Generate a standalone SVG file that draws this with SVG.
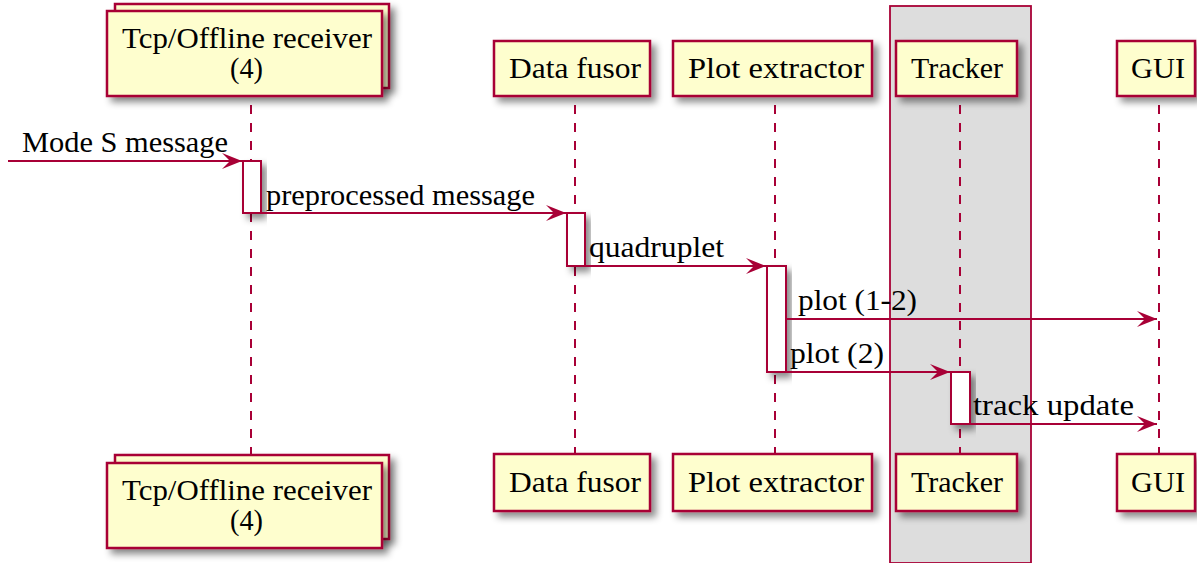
<svg xmlns="http://www.w3.org/2000/svg" width="1197" height="563" viewBox="0 0 1197 563">
  <defs>
    <filter id="shadow" x="-20%" y="-20%" width="150%" height="160%">
      <feDropShadow dx="5" dy="5" stdDeviation="3.5" flood-color="#000" flood-opacity="0.45"/>
    </filter>
    <marker id="arrow" viewBox="0 0 20 16" refX="20" refY="8" markerWidth="20" markerHeight="16" markerUnits="userSpaceOnUse" orient="auto">
      <polygon points="0,0 20,8 0,16 8,8" fill="#A80036"/>
    </marker>
  </defs>
  <style>
    .part { fill: #FEFECE; stroke: #A80036; stroke-width: 2.5; filter: url(#shadow); }
    .act { fill: #FFFFFF; stroke: #A80036; stroke-width: 2; filter: url(#shadow); }
    .life { stroke: #A80036; stroke-width: 2; stroke-dasharray: 9 9; fill: none; }
    .msg { stroke: #A80036; stroke-width: 2; fill: none; marker-end: url(#arrow); }
    .lbl { font-family: "Liberation Serif", "Times New Roman", serif; font-size: 30px; fill: #000; }
    .c { text-anchor: middle; }
  </style>
  <rect width="1197" height="563" fill="#FFFFFF"/>

  <!-- participant box around Tracker -->
  <g id="tracker-box">
    <rect x="890" y="6" width="141" height="557" fill="#DDDDDD" stroke="#A80036" stroke-width="1.8"/>
  </g>

  <!-- lifelines -->
  <g id="lifelines">
    <line class="life" x1="251" y1="105" x2="251" y2="455"/>
    <line class="life" x1="575" y1="105" x2="575" y2="454"/>
    <line class="life" x1="775" y1="105" x2="775" y2="454"/>
    <line class="life" x1="960" y1="105" x2="960" y2="454"/>
    <line class="life" x1="1159" y1="105" x2="1159" y2="454"/>
  </g>

  <!-- participants (head) -->
  <g id="receiver-head">
    <rect class="part" x="115" y="4" width="274" height="84"/>
    <rect class="part" x="107" y="11" width="275" height="85"/>
    <text class="lbl c" x="247" y="48" textLength="250" lengthAdjust="spacingAndGlyphs">Tcp/Offline receiver</text>
    <text class="lbl c" x="246.5" y="78" textLength="33" lengthAdjust="spacingAndGlyphs">(4)</text>
  </g>
  <g id="fusor-head">
    <rect class="part" x="494" y="41" width="156" height="55"/>
    <text class="lbl c" x="575" y="78" textLength="132" lengthAdjust="spacingAndGlyphs">Data fusor</text>
  </g>
  <g id="extractor-head">
    <rect class="part" x="673" y="41" width="199" height="55"/>
    <text class="lbl c" x="776" y="78" textLength="176" lengthAdjust="spacingAndGlyphs">Plot extractor</text>
  </g>
  <g id="tracker-head">
    <rect class="part" x="896" y="41" width="121" height="55"/>
    <text class="lbl c" x="957" y="78" textLength="92" lengthAdjust="spacingAndGlyphs">Tracker</text>
  </g>
  <g id="gui-head">
    <rect class="part" x="1117" y="41" width="78" height="55"/>
    <text class="lbl c" x="1158" y="78" textLength="54" lengthAdjust="spacingAndGlyphs">GUI</text>
  </g>

  <!-- participants (foot) -->
  <g id="receiver-foot">
    <rect class="part" x="115" y="455" width="274" height="84"/>
    <rect class="part" x="107" y="463" width="275" height="85"/>
    <text class="lbl c" x="247" y="500" textLength="250" lengthAdjust="spacingAndGlyphs">Tcp/Offline receiver</text>
    <text class="lbl c" x="246.5" y="530" textLength="33" lengthAdjust="spacingAndGlyphs">(4)</text>
  </g>
  <g id="fusor-foot">
    <rect class="part" x="494" y="454" width="156" height="57"/>
    <text class="lbl c" x="575" y="492" textLength="132" lengthAdjust="spacingAndGlyphs">Data fusor</text>
  </g>
  <g id="extractor-foot">
    <rect class="part" x="673" y="454" width="199" height="57"/>
    <text class="lbl c" x="776" y="492" textLength="176" lengthAdjust="spacingAndGlyphs">Plot extractor</text>
  </g>
  <g id="tracker-foot">
    <rect class="part" x="896" y="454" width="121" height="57"/>
    <text class="lbl c" x="957" y="492" textLength="92" lengthAdjust="spacingAndGlyphs">Tracker</text>
  </g>
  <g id="gui-foot">
    <rect class="part" x="1117" y="454" width="78" height="57"/>
    <text class="lbl c" x="1158" y="492" textLength="54" lengthAdjust="spacingAndGlyphs">GUI</text>
  </g>

  <!-- activations -->
  <g id="activations">
    <rect class="act" x="243" y="161" width="18" height="52"/>
    <rect class="act" x="567" y="213" width="18" height="53"/>
    <rect class="act" x="767" y="266" width="19" height="106"/>
    <rect class="act" x="951" y="372" width="19" height="52"/>
  </g>

  <!-- messages -->
  <g id="connectors">
    <line class="msg" x1="8" y1="161" x2="242" y2="161"/>
    <line class="msg" x1="261" y1="213" x2="566" y2="213"/>
    <line class="msg" x1="585" y1="266" x2="766" y2="266"/>
    <line class="msg" x1="786" y1="319" x2="1157" y2="319"/>
    <line class="msg" x1="786" y1="372" x2="950" y2="372"/>
    <line class="msg" x1="970" y1="424" x2="1157" y2="424"/>
  </g>
  <g id="labels">
    <text class="lbl" x="22" y="152" textLength="206" lengthAdjust="spacingAndGlyphs">Mode S message</text>
    <text class="lbl" x="266" y="205" textLength="269" lengthAdjust="spacingAndGlyphs">preprocessed message</text>
    <text class="lbl" x="589" y="257" textLength="135" lengthAdjust="spacingAndGlyphs">quadruplet</text>
    <text class="lbl" x="798" y="310" textLength="119" lengthAdjust="spacingAndGlyphs">plot (1-2)</text>
    <text class="lbl" x="790" y="363" textLength="94" lengthAdjust="spacingAndGlyphs">plot (2)</text>
    <text class="lbl" x="973" y="415" textLength="161" lengthAdjust="spacingAndGlyphs">track update</text>
  </g>
</svg>
